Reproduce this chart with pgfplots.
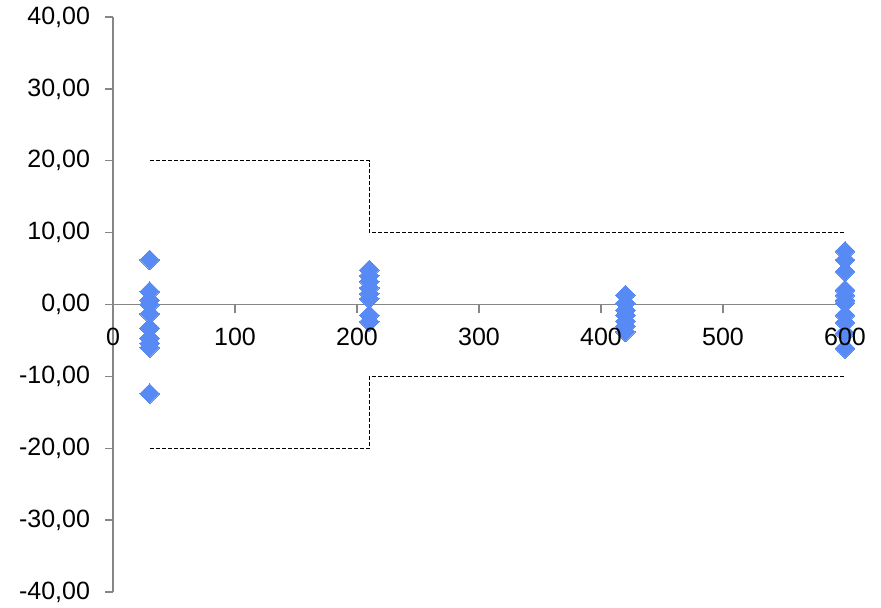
\documentclass[border=0pt]{standalone}
\usepackage{pgfplots}
\pgfplotsset{compat=1.18}
\usepackage{fontspec}
\setmainfont{Liberation Sans}
\definecolor{ptblue}{RGB}{88,138,245}
\definecolor{axgray}{RGB}{134,134,134}
\pgfplotsset{
    layers/labels over marks/.define layer set={
        axis background,axis grid,axis ticks,axis lines,main,axis tick labels,axis descriptions,axis foreground
    }{/pgfplots/layers/standard},
}

\begin{document}
\begin{tikzpicture}
\begin{axis}[
    set layers=labels over marks,
    scale only axis,
    width=366pt, height=287.5pt,
    xmin=0, xmax=600,
    ymin=-40, ymax=40,
    axis y line=left,
    axis x line=middle,
    hide obscured x ticks=false,
    axis line style={axgray, line width=0.65pt, -},
    xtick={0,100,...,600},
    ytick={-40,-30,...,40},
    tick align=outside,
    tick style={axgray, line width=0.65pt},
    major tick length=4pt,
    minor tick num=0,
    font=\fontsize{12.5}{15}\selectfont,
    tick label style={font=\fontsize{12.5}{15}\selectfont},
    yticklabel style={xshift=-4pt, /pgf/number format/.cd, fixed, fixed zerofill, precision=2, use comma},
    xticklabel style={yshift=-4pt, /pgf/number format/.cd, fixed, precision=0},
    /pgf/number format/assume math mode=true,
    clip=false,
]
\addplot[black, line width=0.5pt, dash pattern=on 2pt off 1pt] coordinates {
    (30,20) (210,20) (210,10) (600,10)
};
\addplot[black, line width=0.5pt, dash pattern=on 2pt off 1pt] coordinates {
    (30,-20) (210,-20) (210,-10) (600,-10)
};
\addplot[only marks, mark=square*, mark size=3.5pt,
    mark options={rotate=45, fill=ptblue, draw=ptblue, line width=0pt}] coordinates {
    (30,6.2) (30,1.8) (30,0.6) (30,0.0) (30,-1.3) (30,-3.3) (30,-4.7) (30,-5.4) (30,-6.0) (30,-12.4)
    (210,4.8) (210,4.0) (210,3.2) (210,2.3) (210,1.5) (210,0.8) (210,-1.5) (210,-2.4)
    (420,1.3) (420,0.2) (420,-0.8) (420,-1.5) (420,-2.3) (420,-3.0) (420,-3.8)
    (600,7.4) (600,6.2) (600,4.6) (600,2.0) (600,1.3) (600,0.6) (600,0.2) (600,-1.5) (600,-2.5) (600,-4.0) (600,-6.1)
};
\coordinate (bl) at ([shift={(-56.5pt,-7.5pt)}]rel axis cs:0,0);
\coordinate (tr) at ([shift={(18pt,8.5pt)}]rel axis cs:1,1);
\end{axis}
\pgfresetboundingbox
\path (bl) rectangle (tr);
\end{tikzpicture}
\end{document}
